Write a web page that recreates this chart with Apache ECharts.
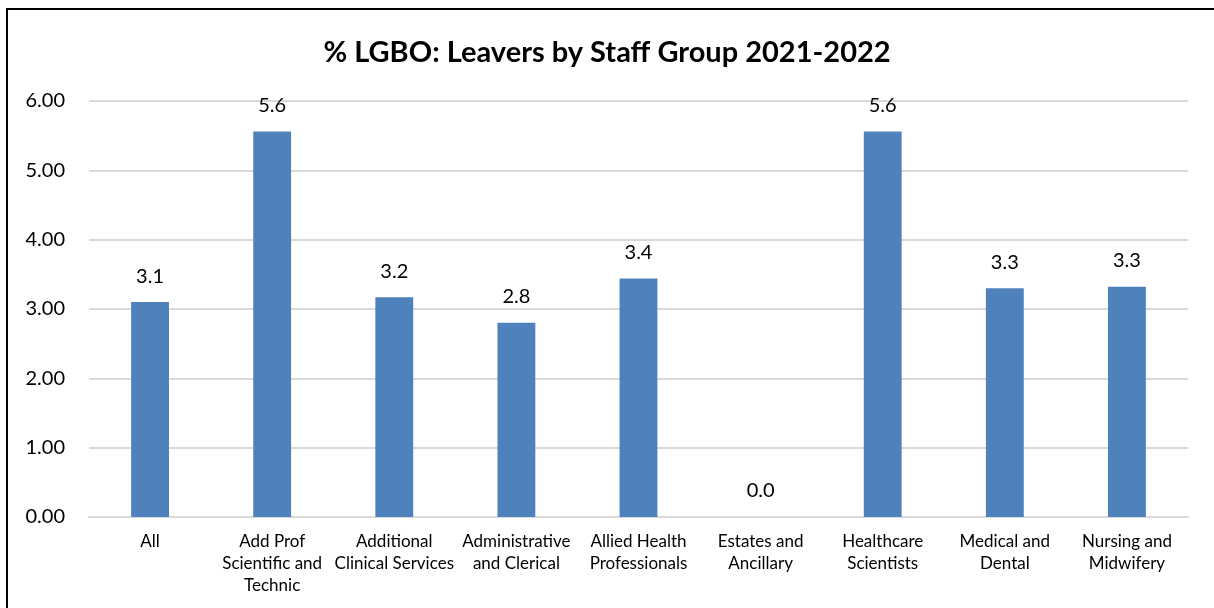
<!DOCTYPE html>
<html>
<head>
<meta charset="utf-8">
<style>
  html, body { margin: 0; padding: 0; background: #fff; }
  #chart { width: 1214px; height: 608px; }
</style>
<script src="https://cdn.jsdelivr.net/npm/echarts@6/dist/echarts.min.js"></script>
</head>
<body>
<div id="chart"></div>
<script>
// Staff groups along the x axis
const categories = [
  'All',
  'Add Prof\nScientific and\nTechnic',
  'Additional\nClinical Services',
  'Administrative\nand Clerical',
  'Allied Health\nProfessionals',
  'Estates and\nAncillary',
  'Healthcare\nScientists',
  'Medical and\nDental',
  'Nursing and\nMidwifery'
];

// % of leavers identifying as LGBO, per staff group
const leaversPct = [3.10, 5.56, 3.17, 2.80, 3.44, 0.0, 5.56, 3.30, 3.32];

const chartTitle = '% LGBO: Leavers by Staff Group 2021-2022';

const FONT = 'Lato, "Open Sans", sans-serif';

const chart = echarts.init(document.getElementById('chart'), null, { renderer: 'canvas' });

chart.setOption({
  animation: false,
  backgroundColor: '#ffffff',
  title: {
    text: chartTitle,
    left: 'center',
    top: 33,
    textStyle: { fontFamily: FONT, fontSize: 29, fontWeight: 'bold', color: '#000000' }
  },
  graphic: [{
    type: 'rect',
    shape: { x: 7, y: 9, width: 1400, height: 800 },
    style: { fill: 'none', stroke: '#000000', lineWidth: 2 },
    silent: true
  }],
  grid: { left: 89, right: 26, top: 101, bottom: 91, containLabel: false },
  xAxis: {
    type: 'category',
    data: categories,
    axisTick: { show: false },
    axisLine: { show: true, lineStyle: { color: '#D9D9D9', width: 2 } },
    axisLabel: {
      interval: 0,
      margin: 14,
      fontFamily: FONT,
      fontSize: 17,
      lineHeight: 22,
      color: '#000000'
    }
  },
  yAxis: {
    type: 'value',
    min: 0,
    max: 6,
    interval: 1,
    axisLine: { show: false },
    axisTick: { show: false },
    splitLine: { lineStyle: { color: '#D9D9D9', width: 2 } },
    axisLabel: {
      margin: 24,
      fontFamily: FONT,
      fontSize: 20,
      color: '#000000',
      formatter: v => v.toFixed(2)
    }
  },
  series: [{
    type: 'bar',
    data: leaversPct,
    barWidth: '31%',
    itemStyle: { color: '#4F81BD' },
    label: {
      show: true,
      position: 'top',
      distance: 16,
      fontFamily: FONT,
      fontSize: 20,
      color: '#000000',
      formatter: p => p.value.toFixed(1)
    }
  }]
});
</script>
</body>
</html>
